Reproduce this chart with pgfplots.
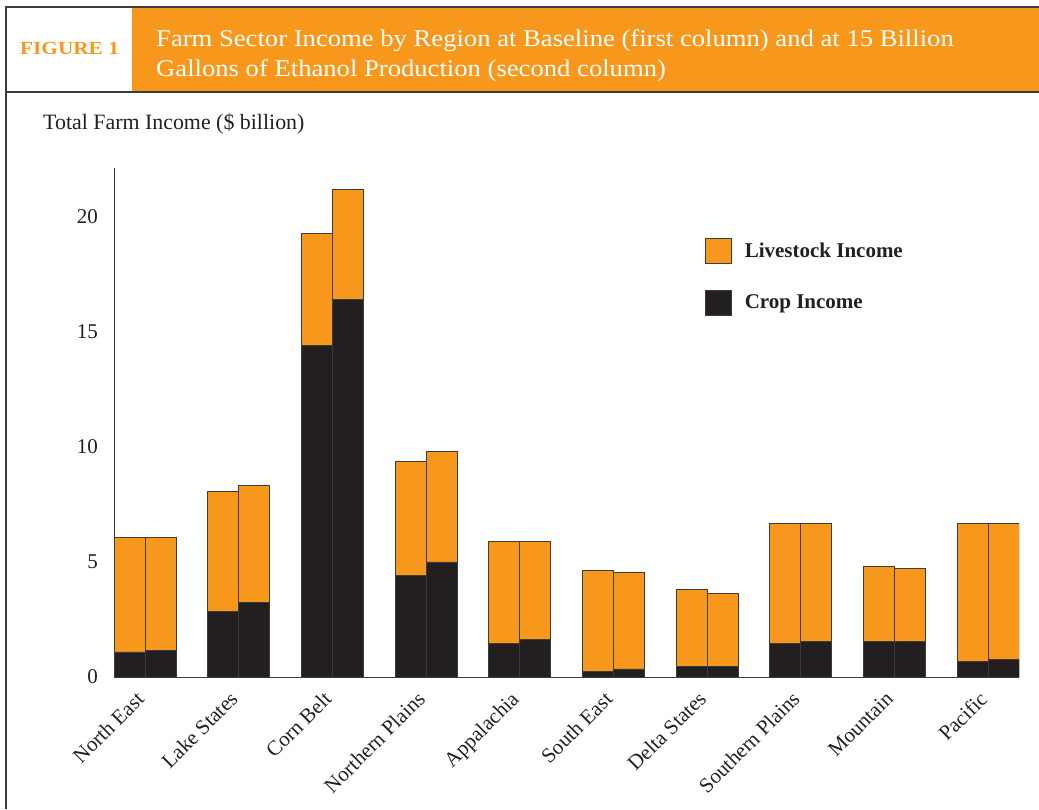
\documentclass[border=0pt]{standalone}
\usepackage{pgfplots}
\usepackage{pgfplotstable}
\pgfplotsset{compat=1.18}
\usepackage{fontspec}
\setmainfont{Liberation Serif}
\newfontfamily\titlefont[FakeStretch=1.11]{Liberation Serif}
\newfontfamily\figfont[FakeStretch=1.15]{Liberation Serif}
\definecolor{farmorange}{HTML}{F7981D}
\definecolor{cropblack}{HTML}{231F20}
\definecolor{edgegray}{HTML}{3C3C3C}

\pgfplotstableread{
x total crop
0 6.08 1.09
1 8.06 2.84
2 19.29 14.40
3 9.39 4.43
4 5.90 1.44
5 4.65 0.26
6 3.80 0.44
7 6.68 1.44
8 4.81 1.53
9 6.68 0.69
}\basetab
\pgfplotstableread{
x total crop
0 6.08 1.17
1 8.31 3.25
2 21.21 16.40
3 9.81 5.00
4 5.90 1.62
5 4.56 0.35
6 3.63 0.44
7 6.68 1.53
8 4.72 1.53
9 6.68 0.77
}\ethtab

\begin{document}
\begin{tikzpicture}[x=1pt,y=1pt]
\useasboundingbox (0,0) rectangle (1039,809);
% header
\fill[farmorange] (132,802) rectangle (1039,717);
\draw[edgegray, line width=1.5pt] (1039,802) -- (6,802) -- (6,0);
\draw[edgegray, line width=1.5pt] (6,717) -- (1039,717);
\node[anchor=base west, inner sep=0pt, text=farmorange, font=\figfont\bfseries\fontsize{18.5}{22}\selectfont] at (20,754) {FIGURE 1};
\node[anchor=base west, inner sep=0pt, text=white, font=\titlefont\fontsize{24}{30}\selectfont] at (156,762) {Farm Sector Income by Region at Baseline (first column) and at 15 Billion};
\node[anchor=base west, inner sep=0pt, text=white, font=\titlefont\fontsize{24}{30}\selectfont] at (156,732) {Gallons of Ethanol Production (second column)};
\node[anchor=base west, inner sep=0pt, text=cropblack, font=\fontsize{21.9}{26}\selectfont] at (43,679.5) {Total Farm Income (\$ billion)};

\begin{axis}[
  at={(114pt,132pt)}, anchor=south west,
  scale only axis, width=905pt, height=509pt,
  xmin=-0.331, xmax=9.331, ymin=0, ymax=22.13,
  axis lines*=left,
  axis line style={-, draw=edgegray, line width=1pt},
  ytick={0,5,10,15,20}, xtick={0,...,9},
  xticklabels={North East, Lake States, Corn Belt, Northern Plains, Appalachia, South East, Delta States, Southern Plains, Mountain, Pacific},
  major tick length=0pt,
  /pgf/number format/assume math mode=true,
  tick label style={font=\fontsize{21}{25}\selectfont, text=cropblack},
  yticklabel style={inner sep=0pt, xshift=-16pt},
  xticklabel style={inner sep=0pt, xshift=-10pt, yshift=-13pt, rotate=45, anchor=north east},
  ybar, bar width=0.331,
  every axis plot/.append style={draw=edgegray, line width=0.8pt},
  legend style={at={(0.653,0.8625)}, anchor=north west, draw=none, fill=none,
    inner sep=0pt, outer sep=0pt, row sep=26pt, column sep=13pt,
    font=\bfseries\fontsize{21}{25}\selectfont,
    nodes={inner sep=0pt, text=cropblack}},
  legend cell align=left,
  legend image code/.code={\draw[#1, line width=0.8pt] (0pt,-12.5pt) rectangle (26pt,12.5pt);},
]
\addplot[fill=farmorange, bar shift=-0.1655] table[x=x,y=total]{\basetab};
\addlegendentry{Livestock Income}
\addplot[fill=farmorange, bar shift=0.1655, forget plot] table[x=x,y=total]{\ethtab};
\addplot[fill=cropblack, bar shift=-0.1655] table[x=x,y=crop]{\basetab};
\addlegendentry{Crop Income}
\addplot[fill=cropblack, bar shift=0.1655, forget plot] table[x=x,y=crop]{\ethtab};
\end{axis}
\end{tikzpicture}
\end{document}
